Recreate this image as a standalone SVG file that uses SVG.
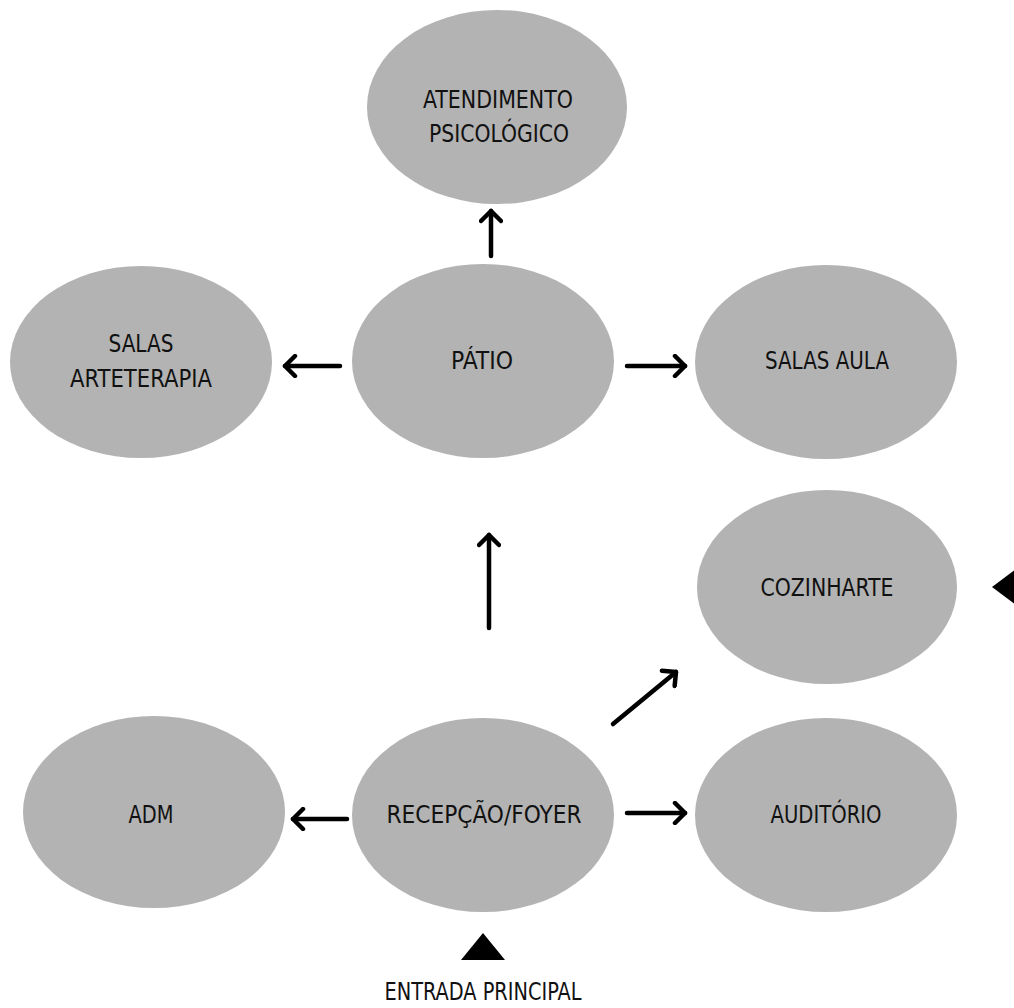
<svg xmlns="http://www.w3.org/2000/svg" width="1014" height="1008" viewBox="0 0 1014 1008">
<style>
.node ellipse{fill:#b3b3b3}
.node text,.label{font-family:"Liberation Sans Narrow","DejaVu Sans Condensed","Liberation Sans",sans-serif;font-size:25px;fill:#111;text-anchor:middle}
.edge{stroke:#000;stroke-width:4.5;stroke-linecap:round;fill:none;marker-end:url(#ah)}
</style>
<defs>
<marker id="ah" markerUnits="userSpaceOnUse" viewBox="-14 -12 18 24" markerWidth="18" markerHeight="24" refX="0" refY="0" orient="auto">
<path d="M-10,-10 L0,0 L-10,10" fill="none" stroke="#000" stroke-width="4.5" stroke-linecap="round" stroke-linejoin="round"/>
</marker>
</defs>
<rect width="1014" height="1008" fill="#fff"/>
<g id="atendimento" class="node"><ellipse cx="497" cy="107" rx="130" ry="97"/><text x="498" y="108" textLength="150" lengthAdjust="spacingAndGlyphs">ATENDIMENTO</text><text x="499" y="142" textLength="140" lengthAdjust="spacingAndGlyphs">PSICOLÓGICO</text></g>
<g id="arteterapia" class="node"><ellipse cx="141" cy="362" rx="131" ry="96"/><text x="141" y="352" textLength="65" lengthAdjust="spacingAndGlyphs">SALAS</text><text x="141" y="387" textLength="142" lengthAdjust="spacingAndGlyphs">ARTETERAPIA</text></g>
<g id="patio" class="node"><ellipse cx="483" cy="361" rx="131" ry="97"/><text x="482" y="369" textLength="62" lengthAdjust="spacingAndGlyphs">PÁTIO</text></g>
<g id="salas-aula" class="node"><ellipse cx="826" cy="362" rx="131" ry="97"/><text x="827" y="369" textLength="124" lengthAdjust="spacingAndGlyphs">SALAS AULA</text></g>
<g id="cozinharte" class="node"><ellipse cx="827" cy="587" rx="130" ry="97"/><text x="827" y="596" textLength="133" lengthAdjust="spacingAndGlyphs">COZINHARTE</text></g>
<g id="adm" class="node"><ellipse cx="154" cy="812" rx="131" ry="96"/><text x="151" y="823" textLength="45" lengthAdjust="spacingAndGlyphs">ADM</text></g>
<g id="recepcao" class="node"><ellipse cx="483" cy="815" rx="131" ry="97"/><text x="484" y="823" textLength="195" lengthAdjust="spacingAndGlyphs">RECEPÇÃO/FOYER</text></g>
<g id="auditorio" class="node"><ellipse cx="826" cy="815" rx="131" ry="97"/><text x="826" y="823" textLength="111" lengthAdjust="spacingAndGlyphs">AUDITÓRIO</text></g>
<g id="connectors">
<path class="edge" d="M491,256 L491,211"/>
<path class="edge" d="M340,366 L285,366"/>
<path class="edge" d="M627,366 L685,366"/>
<path class="edge" d="M489,628 L489,535"/>
<path class="edge" d="M613,724 L676,672"/>
<path class="edge" d="M347,819 L293,819"/>
<path class="edge" d="M627,813 L685,813"/>
</g>
<g id="entrada">
<polygon points="483,933 505,960 461,960" fill="#000"/>
<text class="label" x="483" y="1000" textLength="197" lengthAdjust="spacingAndGlyphs">ENTRADA PRINCIPAL</text>
</g>
<polygon id="entrada-lateral" points="992,587 1020,566 1020,608" fill="#000"/>
</svg>
